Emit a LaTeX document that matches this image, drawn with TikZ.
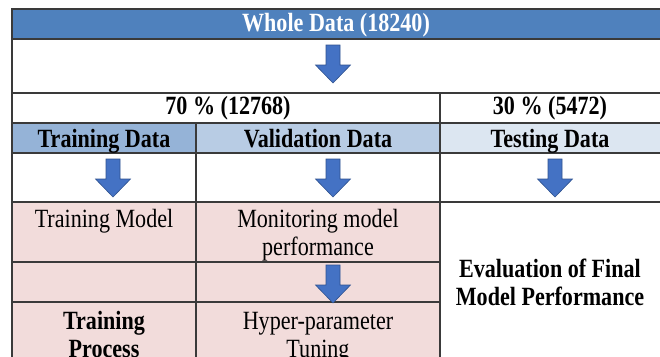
\documentclass[tikz,border=0pt]{standalone}
\usepackage{fontspec}
\setmainfont{Liberation Serif}[FakeStretch=0.84]
\definecolor{hdrblue}{HTML}{4F81BD}
\definecolor{trainblue}{HTML}{95B3D7}
\definecolor{valblue}{HTML}{B8CCE4}
\definecolor{testblue}{HTML}{DCE6F1}
\definecolor{cellpink}{HTML}{F2DCDB}
\definecolor{arrowblue}{HTML}{4472C4}
\definecolor{arrowedge}{HTML}{2F528F}
\definecolor{rulegray}{HTML}{3A3A3A}
\tikzset{
  txt/.style={anchor=base, inner sep=0pt, font=\fontsize{26.3}{29}\selectfont},
  btxt/.style={txt, font=\fontsize{26.3}{29}\selectfont\bfseries},
  rule/.style={draw=rulegray, line width=1.2pt},
  downarrow/.pic={
    \path[fill=arrowblue, draw=arrowedge, line width=0.6pt]
      (-7,0) -- (7,0) -- (7,20) -- (17.5,20) -- (0,38)
      -- (-17.5,20) -- (-7,20) -- cycle;
  }
}
\begin{document}
\begin{tikzpicture}[x=1pt,y=-1pt]
\useasboundingbox (0,0) rectangle (660,356);
\clip (0,0) rectangle (660,356);

% cell fills
\fill[hdrblue]   (12,9)   rectangle (664,39);
\fill[white]     (12,39)  rectangle (664,123);
\fill[trainblue] (12,123) rectangle (196,153);
\fill[valblue]   (196,123) rectangle (440,153);
\fill[testblue]  (440,123) rectangle (664,153);
\fill[white]     (12,153) rectangle (664,202);
\fill[cellpink]  (12,202) rectangle (440,380);

% grid rules
\foreach \yy in {9,39,93,123,153,202}
  \draw[rule] (11.4,\yy) -- (664,\yy);
\foreach \yy in {262,302}
  \draw[rule] (12,\yy) -- (440,\yy);
\draw[rule] (12,9) -- (12,380);
\draw[rule] (440,93) -- (440,380);
\draw[rule] (196,123) -- (196,380);

% headings
\node[btxt, text=white] (whole) at (336,31) {Whole Data (18240)};
\node[btxt] (seventy) at (228,114) {70 \% (12768)};
\node[btxt] (thirty) at (550,114) {30 \% (5472)};
\node[btxt] (train) at (104,147) {Training Data};
\node[btxt] (valid) at (318,147) {Validation Data};
\node[btxt] (test) at (550,147) {Testing Data};

% stage arrows
\pic (arrTop) at (333,45) {downarrow};
\pic (arrTrain) at (113,159) {downarrow};
\pic (arrValid) at (333,159) {downarrow};
\pic (arrTest) at (555,159) {downarrow};
\pic (arrTune) at (333,265) {downarrow};

% cell texts
\node[txt] (tmodel) at (104,227) {Training Model};
\node[txt] (mon1) at (318,227) {Monitoring model};
\node[txt] (mon2) at (318,255) {performance};
\node[btxt] (tp1) at (104,329) {Training};
\node[btxt] (tp2) at (104,357) {Process};
\node[txt] (hp1) at (318,329) {Hyper-parameter};
\node[txt] (hp2) at (318,357) {Tuning};
\node[btxt] (ev1) at (550,277) {Evaluation of Final};
\node[btxt] (ev2) at (550,305) {Model Performance};
\end{tikzpicture}
\end{document}
